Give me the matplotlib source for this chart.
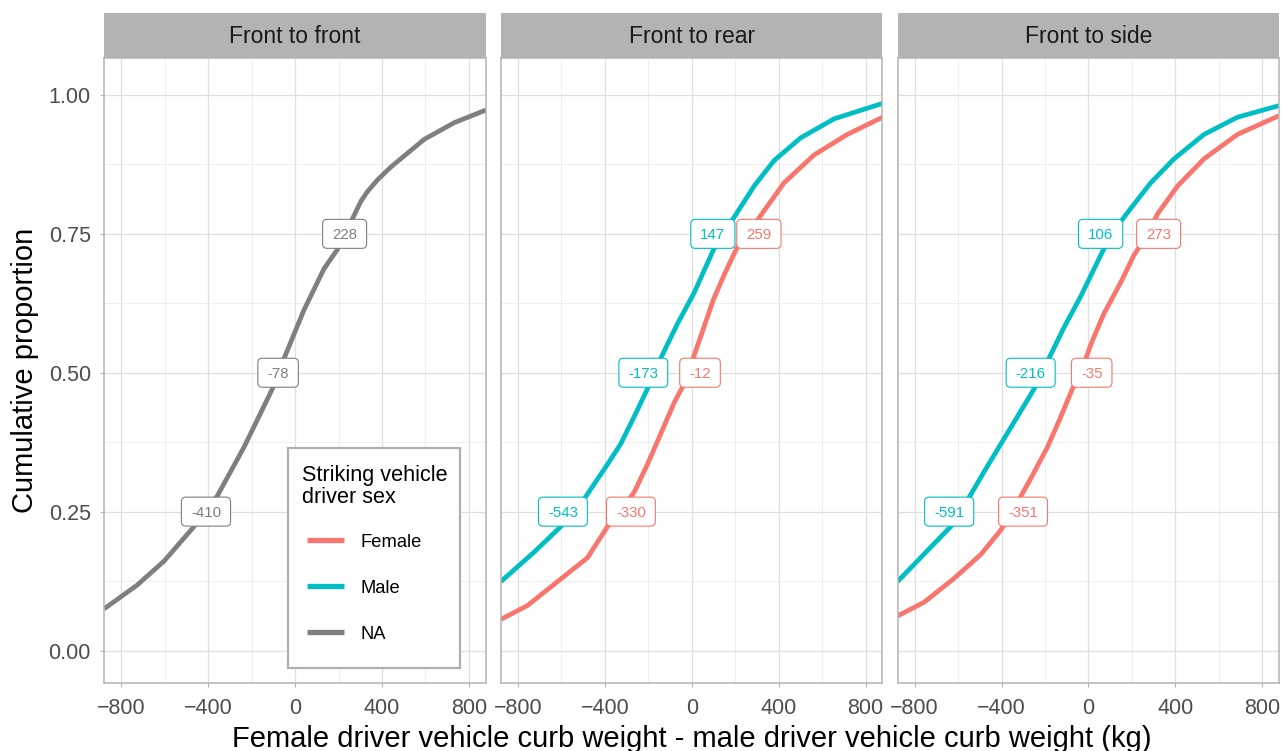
import matplotlib
matplotlib.use("Agg")
import matplotlib.pyplot as plt
from matplotlib.patches import Rectangle, FancyBboxPatch
from matplotlib.lines import Line2D
from matplotlib.transforms import IdentityTransform

plt.rcParams['font.family'] = ['Liberation Sans', 'DejaVu Sans']

# ---- data -------------------------------------------------------------
collision_types = ["Front to front", "Front to rear", "Front to side"]
sex_levels = ["Female", "Male", "NA"]
sex_colors = {"Female": "#F8766D", "Male": "#00BFC4", "NA": "#7F7F7F"}
quartile_levels = [0.25, 0.50, 0.75]

# cumulative proportion vs. weight difference (kg)
ff_na_kg = [-879, -726, -603, -472, -357, -235, -143, -97, -43, 41, 133, 195, 264, 302, 333, 379, 440, 594, 732, 879]
ff_na_prop = [0.075, 0.118, 0.161, 0.220, 0.279, 0.366, 0.440, 0.477, 0.533, 0.613, 0.687, 0.722, 0.777, 0.808, 0.826, 0.847, 0.870, 0.920, 0.950, 0.973]
ff_na_quartiles = [-410, -78, 228]

fr_male_kg = [-879, -726, -603, -495, -388, -327, -265, -204, -127, -66, 11, 103, 195, 287, 379, 502, 655, 879]
fr_male_prop = [0.124, 0.177, 0.223, 0.273, 0.335, 0.372, 0.421, 0.471, 0.539, 0.588, 0.644, 0.724, 0.780, 0.836, 0.882, 0.923, 0.957, 0.985]
fr_male_quartiles = [-543, -173, 147]

fr_female_kg = [-879, -756, -618, -480, -388, -265, -204, -143, -81, -43, 8, 41, 70, 100, 150, 207, 310, 425, 563, 716, 879]
fr_female_prop = [0.056, 0.081, 0.124, 0.167, 0.223, 0.285, 0.335, 0.390, 0.446, 0.474, 0.528, 0.565, 0.598, 0.632, 0.677, 0.724, 0.779, 0.842, 0.892, 0.929, 0.960]
fr_female_quartiles = [-330, -12, 259]

fs_male_kg = [-879, -726, -634, -549, -480, -403, -327, -250, -173, -112, -35, 57, 195, 287, 394, 532, 686, 879]
fs_male_prop = [0.124, 0.186, 0.223, 0.276, 0.322, 0.372, 0.421, 0.471, 0.533, 0.582, 0.638, 0.712, 0.796, 0.842, 0.885, 0.929, 0.960, 0.981]
fs_male_quartiles = [-591, -216, 106]

fs_female_kg = [-879, -756, -618, -495, -403, -265, -189, -127, -74, 11, 72, 149, 210, 318, 410, 532, 686, 879]
fs_female_prop = [0.062, 0.087, 0.130, 0.173, 0.217, 0.310, 0.366, 0.421, 0.471, 0.551, 0.607, 0.663, 0.712, 0.786, 0.836, 0.885, 0.929, 0.963]
fs_female_quartiles = [-351, -35, 273]

x_ticks = [-800, -400, 0, 400, 800]
x_minor = [-600, -200, 200, 600]
y_ticks = [0.00, 0.25, 0.50, 0.75, 1.00]
y_minor = [0.125, 0.375, 0.625, 0.875]

panels = {
    "Front to front": [("NA", ff_na_kg, ff_na_prop, ff_na_quartiles)],
    "Front to rear": [("Female", fr_female_kg, fr_female_prop, fr_female_quartiles),
                      ("Male", fr_male_kg, fr_male_prop, fr_male_quartiles)],
    "Front to side": [("Female", fs_female_kg, fs_female_prop, fs_female_quartiles),
                      ("Male", fs_male_kg, fs_male_prop, fs_male_quartiles)],
}

# horizontal offset of the quartile labels so paired labels don't collide (kg)
label_shift = {"Female": 50, "Male": -50, "NA": 0}

# ---- layout (pixels) --------------------------------------------------
W, H, DPI = 1282, 751, 100
panel_left = [104.3, 501.0, 897.7]
panel_w = 381.3
top_px, bot_px = 58.3, 683.3
strip_h = 45.6
GRID = "#DFDFDF"
GRID_MINOR = "#ECECEC"
BORDER = "#B3B3B3"
TICKTXT = "#4D4D4D"

fig = plt.figure(figsize=(W / DPI, H / DPI), dpi=DPI)
fig.patch.set_facecolor("white")

labels = []
for i, name in enumerate(collision_types):
    ax = fig.add_axes([panel_left[i] / W, 1 - bot_px / H, panel_w / W, (bot_px - top_px) / H])
    ax.set_xlim(-878, 877)
    ax.set_ylim(-0.059, 1.066)
    ax.set_xticks(x_ticks)
    ax.set_xticks(x_minor, minor=True)
    ax.set_yticks(y_ticks)
    ax.set_yticks(y_minor, minor=True)
    ax.set_xticklabels([f"{v}".replace("-", "\u2212") for v in x_ticks])
    ax.grid(which="major", color=GRID, lw=0.9)
    ax.grid(which="minor", color=GRID_MINOR, lw=0.6)
    ax.set_axisbelow(True)
    for s in ax.spines.values():
        s.set_color(BORDER)
        s.set_linewidth(1.1)
    ax.tick_params(axis="x", which="major", length=2.7, width=0.8, color=BORDER,
                   labelsize=15.5, labelcolor=TICKTXT, pad=8)
    ax.tick_params(which="minor", length=0)
    if i == 0:
        ax.set_yticklabels([f"{v:.2f}" for v in y_ticks])
        ax.tick_params(axis="y", which="major", length=2.7, width=0.8, color=BORDER,
                       labelsize=15.5, labelcolor=TICKTXT, pad=7)
    else:
        ax.tick_params(axis="y", which="major", length=0, labelleft=False)

    # facet strip
    ax.add_patch(Rectangle((0, 1), 1, strip_h / (bot_px - top_px), transform=ax.transAxes,
                           facecolor=BORDER, edgecolor="none", clip_on=False, zorder=5))
    ax.text(0.5, (bot_px - 43.3) / (bot_px - top_px), name, transform=ax.transAxes,
            ha="center", va="baseline", fontsize=16.5, color="#1A1A1A", zorder=6)

    for sex, xs, ys, qs in panels[name]:
        pts = sorted(list(zip(xs, ys)) + list(zip(qs, quartile_levels)))
        ax.plot([p[0] for p in pts], [p[1] for p in pts], color=sex_colors[sex], lw=3.4,
                solid_joinstyle="round", solid_capstyle="butt", zorder=2)
        for q, lev in zip(qs, quartile_levels):
            lx = q + label_shift[sex]
            t = ax.annotate(str(q), (lx, lev), xytext=(0, -0.36 * 10.8), textcoords="offset points",
                            ha="center", va="baseline", fontsize=10.8, color=sex_colors[sex], zorder=4)
            labels.append((ax, t, lx, lev, sex_colors[sex]))

# label boxes sized from the rendered text
renderer = fig.canvas.get_renderer()
for ax, t, lx, lev, col in labels:
    bb = t.get_window_extent(renderer)
    cx, cy = ax.transData.transform((lx, lev))
    bw, bh = bb.width + 19, 29
    box = FancyBboxPatch((cx - bw / 2, cy - bh / 2), bw, bh,
                         boxstyle="round,pad=0,rounding_size=4.5",
                         transform=IdentityTransform(), facecolor="white",
                         edgecolor=col, lw=0.8, zorder=3, clip_on=False)
    ax.add_patch(box)

# axis titles
fig.text(692 / W, 1 - 746.7 / H,
         "Female driver vehicle curb weight - male driver vehicle curb weight (kg)",
         ha="center", va="baseline", fontsize=21, color="black")
fig.text(33 / W, 1 - 370.8 / H, "Cumulative proportion", rotation=90, rotation_mode="anchor",
         ha="center", va="baseline", fontsize=21, color="black")

# legend
def fx(px):
    return px / W

def fy(py):
    return 1 - py / H

fig.add_artist(Rectangle((fx(288), fy(668)), 172 / W, 220 / H, transform=fig.transFigure,
                         facecolor="white", edgecolor="#B0B0B0", lw=1.6, zorder=10))
fig.text(fx(302.5), fy(481), "Striking vehicle", fontsize=15.6, va="baseline", ha="left", zorder=11)
fig.text(fx(302.5), fy(503.3), "driver sex", fontsize=15.6, va="baseline", ha="left", zorder=11)
for sex, ky in zip(sex_levels, [540, 586, 632.3]):
    fig.add_artist(Line2D([fx(307), fx(344)], [fy(ky), fy(ky)], transform=fig.transFigure,
                          color=sex_colors[sex], lw=3.8, solid_capstyle="butt", zorder=11))
    fig.text(fx(360), fy(ky + 6.7), sex, fontsize=13.2, va="baseline", ha="left", zorder=11)

fig.savefig("out.png", dpi=DPI)
